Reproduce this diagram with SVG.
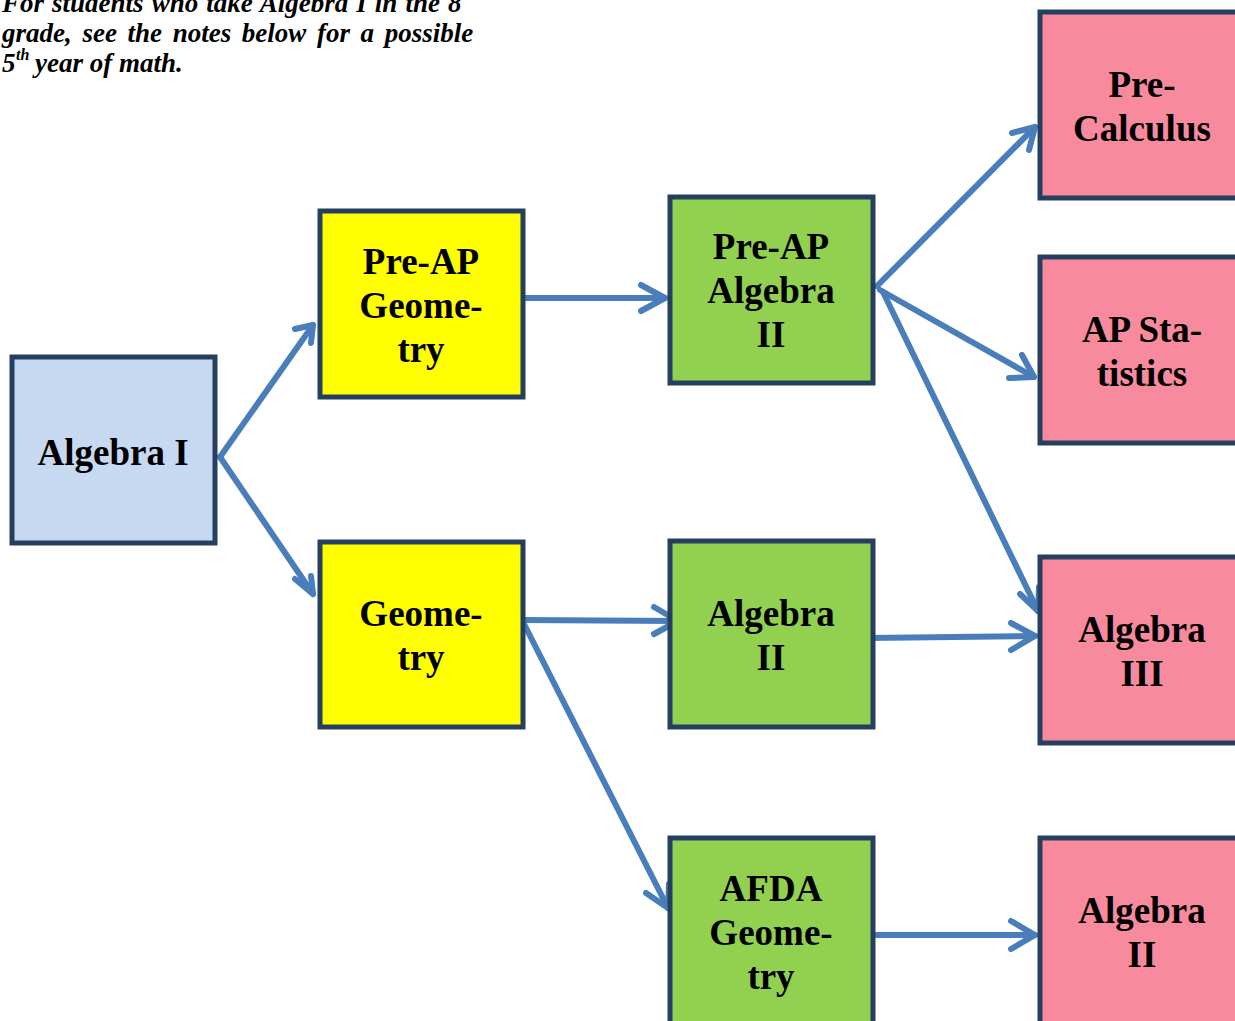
<svg xmlns="http://www.w3.org/2000/svg" width="1235" height="1021" viewBox="0 0 1235 1021">
<defs>
<style>
.box{stroke:#243F60;stroke-width:5}
.blue{fill:#C6D9F1}.yel{fill:#FFFF00}.grn{fill:#92D050}.pink{fill:#F88A9E}
.t{font-family:"Liberation Serif","Times New Roman",serif;font-weight:bold;font-size:37px;fill:#000;text-anchor:middle}
.note{font-family:"Liberation Serif","Times New Roman",serif;font-weight:bold;font-style:italic;font-size:27px;fill:#000}
.c{stroke:#4A7EBB;stroke-width:6;fill:none;stroke-linecap:round;stroke-linejoin:round}
</style>
</defs>
<g id="note">
<text class="note" x="2" y="12" word-spacing="1.3">For students who take Algebra I in the 8</text>
<text class="note" x="2" y="42" word-spacing="3.9">grade, see the notes below for a possible</text>
<text class="note" y="72"><tspan x="2">5</tspan><tspan x="16" y="60" font-size="16">th</tspan><tspan x="35" y="72">year of math.</tspan></text>
</g>
<g id="connectors">
<path class="c" d="M220,457 L313,325"/>
<path class="c" d="M295,329 L313,325 L311,343"/>
<path class="c" d="M220,457 L313,594"/>
<path class="c" d="M295,579 L313,594 L311,576"/>
<path class="c" d="M525,298 L665,298"/>
<path class="c" d="M641,285 L665,298 L641,311"/>
<path class="c" d="M877,286 L1035,127"/>
<path class="c" d="M1012,133 L1035,127 L1029,150"/>
<path class="c" d="M880,290 L1034,377"/>
<path class="c" d="M1022,355 L1034,377 L1009,378"/>
<path class="c" d="M883,292 L1038,611"/>
<path class="c" d="M1038,611 L1020,594"/>
<path class="c" d="M1038,611 L1039,587"/>
<path class="c" d="M522,620 L678,621"/>
<path class="c" d="M654,607 L678,621 L654,634"/>
<path class="c" d="M522,620 L668,908"/>
<path class="c" d="M646,893 L668,908 L669,884"/>
<path class="c" d="M868,638 L1035,636"/>
<path class="c" d="M1011,623 L1035,636 L1011,650"/>
<path class="c" d="M875,935 L1035,935"/>
<path class="c" d="M1011,921 L1035,935 L1011,949"/>
</g>
<g id="algebra1"><rect class="box blue" x="12" y="357" width="203" height="186"/><text class="t" x="113" y="465">Algebra I</text></g>
<g id="preap-geometry"><rect class="box yel" x="320" y="211" width="203" height="186"/><text class="t" x="421" y="274">Pre-AP</text><text class="t" x="421" y="318">Geome-</text><text class="t" x="421" y="362">try</text></g>
<g id="geometry"><rect class="box yel" x="320" y="542" width="203" height="185"/><text class="t" x="421" y="626">Geome-</text><text class="t" x="421" y="670">try</text></g>
<g id="preap-algebra2"><rect class="box grn" x="670" y="197" width="203" height="186"/><text class="t" x="771" y="259">Pre-AP</text><text class="t" x="771" y="303">Algebra</text><text class="t" x="771" y="347">II</text></g>
<g id="algebra2-green"><rect class="box grn" x="670" y="541" width="203" height="186"/><text class="t" x="771" y="626">Algebra</text><text class="t" x="771" y="670">II</text></g>
<g id="afda-geometry"><rect class="box grn" x="670" y="838" width="203" height="190"/><text class="t" x="771" y="901">AFDA</text><text class="t" x="771" y="945">Geome-</text><text class="t" x="771" y="989">try</text></g>
<g id="precalculus"><rect class="box pink" x="1040" y="12" width="204" height="186"/><text class="t" x="1142" y="97">Pre-</text><text class="t" x="1142" y="141">Calculus</text></g>
<g id="ap-statistics"><rect class="box pink" x="1040" y="257" width="204" height="186"/><text class="t" x="1142" y="342">AP Sta-</text><text class="t" x="1142" y="386">tistics</text></g>
<g id="algebra3"><rect class="box pink" x="1040" y="557" width="204" height="186"/><text class="t" x="1142" y="642">Algebra</text><text class="t" x="1142" y="686">III</text></g>
<g id="algebra2-pink"><rect class="box pink" x="1040" y="838" width="204" height="190"/><text class="t" x="1142" y="923">Algebra</text><text class="t" x="1142" y="967">II</text></g>
</svg>
